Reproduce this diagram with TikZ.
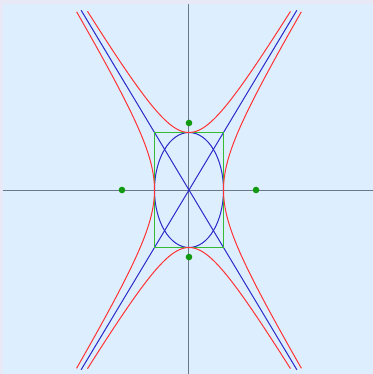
\documentclass[tikz,border=0pt]{standalone}
\usetikzlibrary{calc}
\definecolor{bgout}{HTML}{E8E8F6}
\definecolor{bgin}{HTML}{DDEEFF}
\definecolor{axisc}{HTML}{6A7888}
\definecolor{hypred}{HTML}{FF3333}
\definecolor{asyblue}{HTML}{2A2AC8}
\definecolor{boxgreen}{HTML}{33BB33}
\definecolor{dotgreen}{HTML}{119911}
\begin{document}
\begin{tikzpicture}[x=11.5pt,y=11.5pt,
  axisline/.style={axisc,line width=1pt},
  hyp/.style={hypred,line width=1pt,smooth,samples=80},
  asy/.style={asyblue,line width=1pt},
  focusdot/.style={fill=dotgreen,draw=none}]
\useasboundingbox (-16.435,-16) rectangle (16,16.522);
\fill[bgout] (-16.435,-16) rectangle (16,16.522);
\fill[bgin] (-16.17,-16) rectangle (16,16.17);
% axes
\draw[axisline] (-16.17,0) -- (16,0);
\draw[axisline] (0,-16) -- (0,16.17);
% asymptotes
\coordinate (A1) at (-9.38,-15.63);
\coordinate (A2) at (9.38,15.63);
\coordinate (B1) at (-9.38,15.63);
\coordinate (B2) at (9.38,-15.63);
\draw[asy] (A1) -- (A2);
\draw[asy] (B1) -- (B2);
% ellipse
\draw[asy] (0,0) ellipse [x radius=3, y radius=5];
% box
\draw[boxgreen,line width=1.4pt] (-3,-5) rectangle (3,5);
% hyperbolas opening left/right
\draw[hyp] plot[domain=-1.85:1.85] ({3*cosh(\x)},{5*sinh(\x)});
\draw[hyp] plot[domain=-1.85:1.85] ({-3*cosh(\x)},{5*sinh(\x)});
% hyperbolas opening up/down
\draw[hyp] plot[domain=-1.80:1.80] ({3*sinh(\x)},{5*cosh(\x)});
\draw[hyp] plot[domain=-1.80:1.80] ({3*sinh(\x)},{-5*cosh(\x)});
% foci
\fill[focusdot] (0,5.83) circle (3.3pt);
\fill[focusdot] (0,-5.83) circle (3.3pt);
\fill[focusdot] (5.83,0) circle (3.3pt);
\fill[focusdot] (-5.83,0) circle (3.3pt);
\end{tikzpicture}
\end{document}
